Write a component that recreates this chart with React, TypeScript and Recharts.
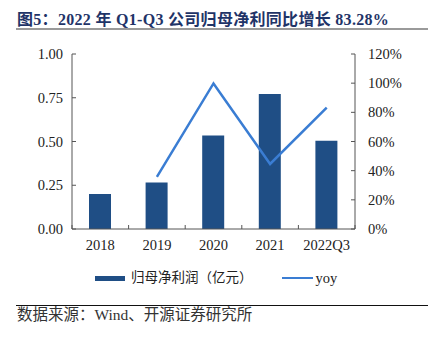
import { Bar, ComposedChart, Legend, Line, XAxis, YAxis } from 'recharts';

const years = ['2018', '2019', '2020', '2021', '2022Q3'];
const netProfit = [0.2, 0.266, 0.535, 0.771, 0.505];
const yoy = [null, 35.7, 99.8, 44.6, 83.28];
const leftTicks = [0, 0.25, 0.5, 0.75, 1];
const rightTicks = [0, 20, 40, 60, 80, 100, 120];

const data = years.map((year, i) => ({ year, profit: netProfit[i], yoy: yoy[i] }));

const serif = '"Times New Roman", "Liberation Serif", "Noto Sans CJK SC", serif';
const barColor = '#1F4E85';
const lineColor = '#3A7DD3';
const tickFont = 14.5;

function CategoryTick(props: any) {
  const { x, y, payload } = props;
  const axisY = y - 6 - 5;
  const half = payload.offset || 0;
  return (
    <g>
      <line x1={x + half} x2={x + half} y1={axisY} y2={axisY - 4} stroke="#555" />
      {payload.index === 0 && <line x1={x - half} x2={x - half} y1={axisY} y2={axisY - 4} stroke="#555" />}
      <text x={x} y={y} dy="0.71em" textAnchor="middle" fill="#222" fontSize={tickFont} fontFamily={serif}>
        {payload.value}
      </text>
    </g>
  );
}

function ChartLegend() {
  return (
    <div style={{ display: 'flex', alignItems: 'center', paddingLeft: 95, fontFamily: serif, fontSize: 13.5, color: '#222', lineHeight: '16px' }}>
      <span style={{ width: 30, height: 5, background: barColor, display: 'inline-block' }} />
      <span style={{ marginLeft: 6 }}>归母净利润（亿元）</span>
      <span style={{ width: 31, height: 2.5, background: lineColor, display: 'inline-block', marginLeft: 29 }} />
      <span style={{ marginLeft: 3, fontSize: 14.5 }}>yoy</span>
    </div>
  );
}

export default function App() {
  return (
    <div style={{ position: 'absolute', left: 0, top: 0, width: 440, height: 341, background: '#fff', fontFamily: serif }}>
      <div style={{ position: 'absolute', left: 17, top: 6, fontSize: 16, fontWeight: 'bold', color: '#1F3468', whiteSpace: 'nowrap', letterSpacing: 0.3 }}>
        图5：2022 年 Q1-Q3 公司归母净利同比增长 83.28%
      </div>
      <div style={{ position: 'absolute', left: 16, top: 28, width: 412, height: 2, background: '#9a9a9a' }} />
      <div style={{ position: 'absolute', left: 0, top: 0 }}>
        <ComposedChart width={440} height={300} data={data} margin={{ top: 54, right: 25, left: 12, bottom: 0 }}>
          <XAxis
            dataKey="year"
            height={55}
            tickLine={false}
            tickSize={6}
            tickMargin={5}
            stroke="#555"
            tick={<CategoryTick />}
          />
          <YAxis
            yAxisId="left"
            width={60}
            domain={[0, 1]}
            ticks={leftTicks}
            tickFormatter={(v: number) => v.toFixed(2)}
            tickSize={-4}
            tickMargin={13}
            stroke="#555"
            tick={{ fill: '#222', fontSize: tickFont, fontFamily: serif }}
          />
          <YAxis
            yAxisId="right"
            orientation="right"
            width={60}
            domain={[0, 120]}
            ticks={rightTicks}
            tickFormatter={(v: number) => `${v}%`}
            tickSize={-4}
            tickMargin={17}
            stroke="#555"
            tick={{ fill: '#222', fontSize: tickFont, fontFamily: serif, textAnchor: 'start' }}
          />
          <Legend
            content={<ChartLegend />}
            wrapperStyle={{ position: 'absolute', top: 270, left: 0, width: 440, height: 16 }}
          />
          <Bar yAxisId="left" dataKey="profit" name="归母净利润（亿元）" fill={barColor} barSize={22} isAnimationActive={false} />
          <Line yAxisId="right" dataKey="yoy" name="yoy" stroke={lineColor} strokeWidth={2.5} dot={false} connectNulls={false} isAnimationActive={false} />
        </ComposedChart>
      </div>
      <div style={{ position: 'absolute', left: 16, top: 305, width: 412, height: 1, background: '#111' }} />
      <div style={{ position: 'absolute', left: 17, top: 306, fontSize: 15.5, color: '#333', whiteSpace: 'nowrap', lineHeight: '18px' }}>
        数据来源：Wind、开源证券研究所
      </div>
    </div>
  );
}
